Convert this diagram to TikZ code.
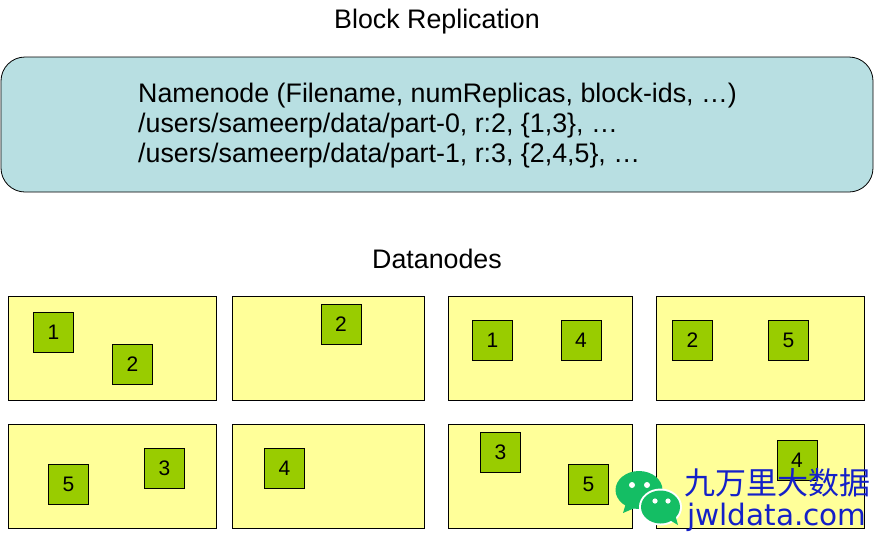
\documentclass[tikz,border=0pt]{standalone}
\usepackage{fontspec}
\setmainfont{Liberation Sans}
\newfontfamily\cjk{Noto Sans CJK SC}
\newfontfamily\wmlatin{DejaVu Sans}
\definecolor{nnfill}{HTML}{B8DFE2}
\definecolor{dnfill}{HTML}{FFFF99}
\definecolor{blkfill}{HTML}{99CC00}
\definecolor{wmblue}{HTML}{1420C8}
\definecolor{wmgreen}{HTML}{14BE64}
\tikzset{
  titletext/.style={font=\fontsize{26.8}{29}\selectfont,inner sep=0pt,anchor=base},
  nnline/.style={inner sep=0pt,anchor=base west,font=\fontsize{26.8}{29}\selectfont},
  namebox/.style={draw=black,fill=nnfill,rounded corners=24pt,line width=0.8pt},
  datanode/.style={draw=black,fill=dnfill,line width=1pt},
  blk/.style={draw=black,fill=blkfill,line width=0.8pt,minimum size=40pt,inner sep=0pt,anchor=north west,font=\fontsize{21}{21}\selectfont},
  wechat/.style={fill=wmgreen,draw=none},
  wmtext/.style={text=wmblue,inner sep=0pt,anchor=base west}
}
\begin{document}
\begin{tikzpicture}[x=1pt,y=-1pt]
\useasboundingbox (0,0) rectangle (874,536);
\fill[white] (0,0) rectangle (874,536);
\node[titletext] (title) at (437,28.5) {Block Replication};
\draw[namebox] (1,57) rectangle (873,192);
\node[nnline] (nntext) at (138,102.5) {Namenode (Filename, numReplicas, block-ids, …)};
\node[nnline] (nnline2) at (138,132.5) {/users/sameerp/data/part-0, r:2, \{1,3\}, …};
\node[nnline] (nnline3) at (138,162.5) {/users/sameerp/data/part-1, r:3, \{2,4,5\}, …};
\node[titletext] (dntitle) at (437,268.5) {Datanodes};
\draw[datanode] (8,296) rectangle (216,400);
\draw[datanode] (232,296) rectangle (424,400);
\draw[datanode] (448,296) rectangle (632,400);
\draw[datanode] (656,296) rectangle (864,400);
\draw[datanode] (8,424) rectangle (216,528);
\draw[datanode] (232,424) rectangle (424,528);
\draw[datanode] (448,424) rectangle (632,528);
\draw[datanode] (656,424) rectangle (864,528);
\node[blk] (a1) at (33,312) {1};
\node[blk] (a2) at (112,344) {2};
\node[blk] (b2) at (320.5,304) {2};
\node[blk] (c1) at (472,320) {1};
\node[blk] (c4) at (560.5,320) {4};
\node[blk] (d2) at (672,320) {2};
\node[blk] (d5) at (768,320) {5};
\node[blk] (e5) at (48,464) {5};
\node[blk] (e3) at (144,448) {3};
\node[blk] (f4) at (264,448) {4};
\node[blk] (g3) at (480,432) {3};
\node[blk] (g5) at (568,464) {5};
\node[blk] (h4) at (776.5,440) {4};
% watermark icon
\fill[wechat] (639,490) ellipse (23.5 and 19);
\fill[wechat] (626,503) -- (623,513) -- (637,507) -- cycle;
\fill[white] (660.5,507) ellipse (21.5 and 18.5);
\fill[wechat] (660.5,507) ellipse (19.5 and 16.5);
\fill[wechat] (668,519) -- (678,525) -- (675,514) -- cycle;
\fill[white] (632,485) circle (3) (647,485) circle (3) (655,501) circle (2.6) (668,501) circle (2.6);
\node[wmtext,font=\cjk\fontsize{31}{31}\selectfont] (wm1) at (684,494) {九万里大数据};
\node[wmtext,font=\wmlatin\fontsize{29.5}{30}\selectfont] (wm2) at (687,525) {jwldata.com};
\end{tikzpicture}
\end{document}
